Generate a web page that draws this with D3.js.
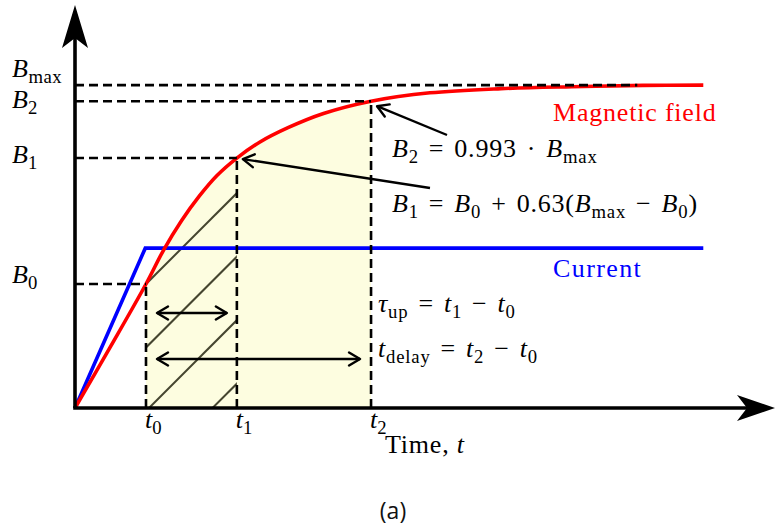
<!DOCTYPE html>
<html>
<head>
<meta charset="utf-8">
<script src="https://cdn.jsdelivr.net/npm/d3@7"></script>
<style>
  body { margin: 0; background: #fff; }
  svg text { white-space: pre; }
</style>
</head>
<body>
<svg width="775" height="529"></svg>
<script>
// Magnetic field response (arbitrary units, B_max = 1, t0 = 1)
const fieldT = [0, 0.5, 1, 1.25, 1.5, 1.75, 2.0, 2.28, 2.6, 3.0, 3.5, 4.17, 5.0, 6.0, 7.0, 8.0, 8.85];
const fieldB = [0, 0.19, 0.384, 0.49, 0.58, 0.656, 0.72, 0.774, 0.823, 0.868, 0.912, 0.950, 0.976, 0.989, 0.995, 0.999, 1.0];

// Current step
const currentT = [0, 0.99, 8.85];
const currentI = [0, 0.495, 0.495];

// Marked times and field levels
const timeNames = ["0", "1", "2"];
const timeValues = [1, 2.28, 4.17];
const levelNames = ["0", "1", "2", "max"];
const levelValues = [0.384, 0.774, 0.950, 1.0];
const levelDashEnd = [1, 2.28, 4.17, 7.92];

const width = 775;
const height = 529;
const svg = d3.select("svg");

const x = d3.scaleLinear().domain([0, 9.86]).range([75, 775]);
const y = d3.scaleLinear().domain([0, 1.248]).range([408, 5]);

const field = fieldT.map((t, i) => ({ t: t, v: fieldB[i] }));
const current = currentT.map((t, i) => ({ t: t, v: currentI[i] }));

const defs = svg.append("defs");

// open arrow heads for annotations
defs.append("marker")
    .attr("id", "head")
    .attr("markerUnits", "userSpaceOnUse")
    .attr("viewBox", "-14 -8 16 16")
    .attr("refX", 0).attr("refY", 0)
    .attr("markerWidth", 16).attr("markerHeight", 16)
    .attr("orient", "auto-start-reverse")
    .append("path")
    .attr("d", "M-11,-6.5 L0,0 L-11,6.5")
    .attr("fill", "none")
    .attr("stroke", "#000")
    .attr("stroke-width", 2.4)
    .attr("stroke-linecap", "round")
    .attr("stroke-linejoin", "round");

const smooth = d3.curveCatmullRom.alpha(0.5);

const area = d3.area()
    .x(d => x(d.t))
    .y0(y(0))
    .y1(d => y(d.v))
    .curve(smooth);

const line = d3.line()
    .x(d => x(d.t))
    .y(d => y(d.v));

defs.append("clipPath").attr("id", "under")
    .append("path").attr("d", area(field));
defs.append("clipPath").attr("id", "t0t2")
    .append("rect")
    .attr("x", x(timeValues[0])).attr("y", 0)
    .attr("width", x(timeValues[2]) - x(timeValues[0])).attr("height", y(0));
defs.append("clipPath").attr("id", "t0t1")
    .append("rect")
    .attr("x", x(timeValues[0])).attr("y", 0)
    .attr("width", x(timeValues[1]) - x(timeValues[0])).attr("height", y(0));

// pale yellow region under the field between t0 and t2
svg.append("g").attr("clip-path", "url(#t0t2)")
    .append("path")
    .attr("d", area(field))
    .attr("fill", "#fdfde0");

// hatching between t0 and t1
const hatch = svg.append("g").attr("clip-path", "url(#t0t1)")
    .append("g").attr("clip-path", "url(#under)");
const c0 = x(timeValues[0]) + y(levelValues[0]);
d3.range(-6, 6).forEach(k => {
    const c = c0 + k * 63.5;
    hatch.append("line")
        .attr("x1", c - 500).attr("y1", 500)
        .attr("x2", c).attr("y2", 0)
        .attr("stroke", "#45452f")
        .attr("stroke-width", 2);
});

// current and field
svg.append("path")
    .attr("d", line.curve(d3.curveLinear)(current))
    .attr("fill", "none")
    .attr("stroke", "#0000ff")
    .attr("stroke-width", 3.6);

svg.append("path")
    .attr("d", line.curve(smooth)(field))
    .attr("fill", "none")
    .attr("stroke", "#ff0000")
    .attr("stroke-width", 3.6);

// dashed guides
const dash = svg.append("g")
    .attr("stroke", "#000")
    .attr("stroke-width", 2.6)
    .attr("stroke-dasharray", "9,5");
levelValues.forEach((v, i) => {
    dash.append("line")
        .attr("x1", x(0)).attr("y1", y(v))
        .attr("x2", x(levelDashEnd[i])).attr("y2", y(v));
});
timeValues.forEach((t, i) => {
    dash.append("line")
        .attr("x1", x(t)).attr("y1", y(0))
        .attr("x2", x(t)).attr("y2", y(levelValues[i]));
});

// axes with big arrow heads
svg.append("line")
    .attr("x1", x(0)).attr("y1", y(0))
    .attr("x2", x(0)).attr("y2", 30)
    .attr("stroke", "#000").attr("stroke-width", 3.6);
svg.append("line")
    .attr("x1", x(0) - 1.8).attr("y1", y(0))
    .attr("x2", 750).attr("y2", y(0))
    .attr("stroke", "#000").attr("stroke-width", 3.6);
svg.append("path")
    .attr("d", `M${x(0)},5 L${x(0) + 13},48 L${x(0)},38 L${x(0) - 13},48 Z`)
    .attr("fill", "#000");
svg.append("path")
    .attr("d", `M775,${y(0)} L737,${y(0) - 13} L747,${y(0)} L737,${y(0) + 13} Z`)
    .attr("fill", "#000");

// annotation arrows
const arrows = svg.append("g")
    .attr("stroke", "#000")
    .attr("stroke-width", 2.4)
    .attr("fill", "none");
arrows.append("line")
    .attr("x1", 447).attr("y1", 135)
    .attr("x2", x(timeValues[2]) + 6).attr("y2", y(levelValues[2]) + 5)
    .attr("marker-end", "url(#head)");
arrows.append("line")
    .attr("x1", 430).attr("y1", 188)
    .attr("x2", x(timeValues[1]) + 6).attr("y2", y(levelValues[1]) + 1)
    .attr("marker-end", "url(#head)");
arrows.append("line")
    .attr("x1", x(timeValues[0]) + 11).attr("y1", 313)
    .attr("x2", x(timeValues[1]) - 10).attr("y2", 313)
    .attr("marker-start", "url(#head)")
    .attr("marker-end", "url(#head)");
arrows.append("line")
    .attr("x1", x(timeValues[0]) + 11).attr("y1", 359)
    .attr("x2", x(timeValues[2]) - 11).attr("y2", 359)
    .attr("marker-start", "url(#head)")
    .attr("marker-end", "url(#head)");

// math-like text: segments of [text, kind]
// kind: i = italic, r = roman, s = subscript, o = operator with math spacing
const serif = "'Liberation Serif', 'DejaVu Serif', serif";
function mathText(px, py, parts, size, color) {
    const t = svg.append("text")
        .attr("x", px).attr("y", py)
        .attr("font-family", serif)
        .attr("font-size", size)
        .attr("fill", color || "#000");
    let shifted = false;
    let pad = 0;
    parts.forEach(([s, kind]) => {
        const sp = t.append("tspan").text(s);
        if (pad) sp.attr("dx", pad);
        pad = 0;
        if (kind === "s") {
            sp.attr("font-size", size * 0.72)
              .attr("dy", shifted ? 0 : 6);
            shifted = true;
            return;
        }
        if (shifted) sp.attr("dy", -6);
        shifted = false;
        if (kind === "i") sp.attr("font-style", "italic");
        if (kind === "o") {
            sp.attr("dx", 10);
            pad = 10;
        }
    });
    return t;
}

const fs = 26;
// y labels
mathText(12, 77, [["B", "i"], ["max", "s"]], fs).attr("letter-spacing", 0.5);
levelNames.slice(0, 3).forEach((n, i) => {
    const by = [283, 163, 108][i];
    mathText(12, by, [["B", "i"], [n, "s"]], fs);
});
// x labels
timeNames.forEach((n, i) => {
    mathText(x(timeValues[i]) - 1, 428, [["t", "i"], [n, "s"]], fs);
});
mathText(385, 453, [["Time, ", "r"], ["t", "i"]], fs).attr("letter-spacing", 0.8);

// equations
const eqs = [
    mathText(392, 157, [["B", "i"], ["2", "s"], ["=", "o"], ["0.993", "r"], ["·", "o"], ["B", "i"], ["max", "s"]], fs),
    mathText(392, 212, [["B", "i"], ["1", "s"], ["=", "o"], ["B", "i"], ["0", "s"],
        ["+", "o"], ["0.63(", "r"], ["B", "i"], ["max", "s"], ["−", "o"], ["B", "i"], ["0", "s"], [")", "r"]], fs),
    mathText(378, 312, [["τ", "i"], ["up", "s"], ["=", "o"], ["t", "i"], ["1", "s"], ["−", "o"], ["t", "i"], ["0", "s"]], fs),
    mathText(378, 357, [["t", "i"], ["delay", "s"], ["=", "o"], ["t", "i"], ["2", "s"], ["−", "o"], ["t", "i"], ["0", "s"]], fs)
];
eqs.forEach(e => e.attr("letter-spacing", 0.8));

// series labels
mathText(553, 121, [["Magnetic field", "r"]], fs, "#ff0000").attr("letter-spacing", 0.8);
mathText(553, 277, [["Current", "r"]], fs, "#0000ff").attr("letter-spacing", 1.4);

// caption
svg.append("text")
    .attr("x", 393).attr("y", 519)
    .attr("text-anchor", "middle")
    .attr("font-family", "'Open Sans', 'Noto Sans', sans-serif")
    .attr("font-size", 23)
    .attr("fill", "#111")
    .text("(a)");
</script>
</body>
</html>
